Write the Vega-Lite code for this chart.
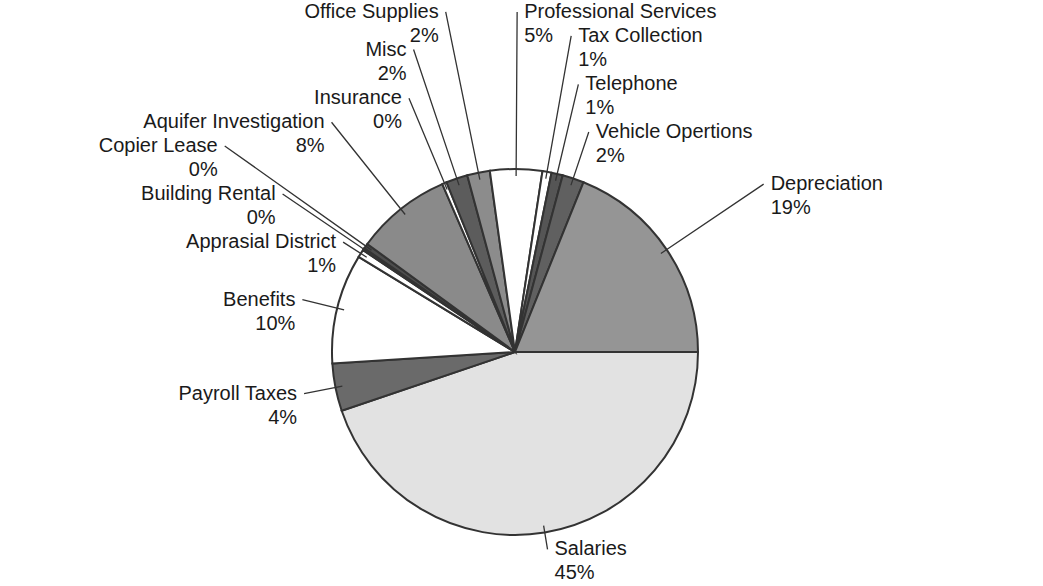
{
  "$schema": "https://vega.github.io/schema/vega-lite/v6.json",
  "width": 1030,
  "height": 468,
  "autosize": {"type": "none"},
  "padding": {"left": 0, "top": 118, "right": 13, "bottom": 0},
  "background": "white",
  "data": {
    "values": [
      {"i": 0, "category": "Salaries", "value": 0.448},
      {"i": 1, "category": "Payroll Taxes", "value": 0.042},
      {"i": 2, "category": "Benefits", "value": 0.097},
      {"i": 3, "category": "Apprasial District", "value": 0.007},
      {"i": 4, "category": "Building Rental", "value": 0.002},
      {"i": 5, "category": "Copier Lease", "value": 0.0045},
      {"i": 6, "category": "Aquifer Investigation", "value": 0.0845},
      {"i": 7, "category": "Insurance", "value": 0.004},
      {"i": 8, "category": "Misc", "value": 0.019},
      {"i": 9, "category": "Office Supplies", "value": 0.02},
      {"i": 10, "category": "Professional Services", "value": 0.046},
      {"i": 11, "category": "Tax Collection", "value": 0.008},
      {"i": 12, "category": "Telephone", "value": 0.01},
      {"i": 13, "category": "Vehicle Opertions", "value": 0.019},
      {"i": 14, "category": "Depreciation", "value": 0.189}
    ]
  },
  "encoding": {
    "theta": {"field": "value", "type": "quantitative", "stack": true, "scale": {"range": [1.5707963, 7.8539816]}},
    "order": {"field": "i", "type": "quantitative"},
    "detail": {"field": "category", "type": "nominal"}
  },
  "layer": [
    {
      "mark": {"type": "arc", "outerRadius": 183, "stroke": "#333333", "strokeWidth": 2},
      "encoding": {
        "color": {
          "field": "category",
          "type": "nominal",
          "legend": null,
          "scale": {
            "domain": ["Salaries", "Payroll Taxes", "Benefits", "Apprasial District", "Building Rental", "Copier Lease", "Aquifer Investigation", "Insurance", "Misc", "Office Supplies", "Professional Services", "Tax Collection", "Telephone", "Vehicle Opertions", "Depreciation"],
            "range": ["#e2e2e2", "#6a6a6a", "#ffffff", "#ffffff", "#555555", "#4d4d4d", "#8a8a8a", "#ffffff", "#5c5c5c", "#8c8c8c", "#ffffff", "#ffffff", "#555555", "#606060", "#959595"]
          }
        }
      }
    },
    {
      "mark": {
        "type": "arc",
        "filled": false,
        "stroke": "#333333",
        "strokeWidth": 1.3,
        "padAngle": 3.1416,
        "innerRadius": 176,
        "outerRadius": {"expr": "[200,215,219,204,281,356,294,275,319,347,340,321,275,232,300][datum.i]"}
      }
    },
    {
      "mark": {
        "type": "text",
        "font": "Liberation Sans",
        "fontSize": 20,
        "color": "#1a1a1a",
        "baseline": "middle",
        "radius": {"expr": "[200,215,219,204,281,356,294,275,319,347,340,321,275,232,300][datum.i]"},
        "align": {"expr": "datum.i >= 1 && datum.i <= 9 ? 'right' : 'left'"},
        "dx": {"expr": "datum.i >= 1 && datum.i <= 9 ? -7 : 7"}
      },
      "encoding": {
        "text": {"field": "category", "type": "nominal"}
      }
    },
    {
      "mark": {
        "type": "text",
        "font": "Liberation Sans",
        "fontSize": 20,
        "color": "#1a1a1a",
        "baseline": "middle",
        "dy": 24,
        "radius": {"expr": "[200,215,219,204,281,356,294,275,319,347,340,321,275,232,300][datum.i]"},
        "align": {"expr": "datum.i >= 1 && datum.i <= 9 ? 'right' : 'left'"},
        "dx": {"expr": "datum.i >= 1 && datum.i <= 9 ? -7 : 7"}
      },
      "encoding": {
        "text": {"field": "value", "type": "quantitative", "format": ".0%"}
      }
    }
  ]
}
